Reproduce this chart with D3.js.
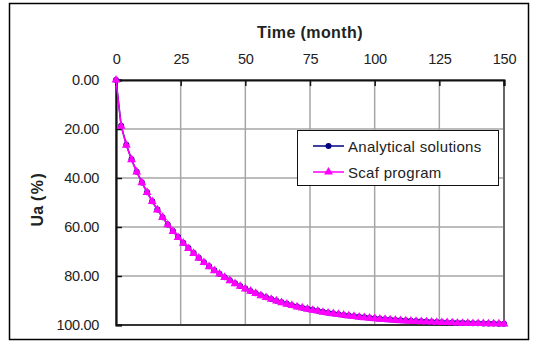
<!DOCTYPE html>
<html><head><meta charset="utf-8">
<script src="https://cdn.jsdelivr.net/npm/d3@7"></script>
<style>
html,body{margin:0;padding:0;background:#fff;}
svg{display:block;}
text{font-family:"Liberation Sans",Arial,sans-serif;fill:#222;}
</style></head><body>
<svg id="chart" width="538" height="345"></svg>
<script>
const months = [0,2,4,6,8,10,12,14,16,18,20,22,24,26,28,30,32,34,36,38,40,42,44,46,48,50,52,54,56,58,60,62,64,66,68,70,72,74,76,78,80,82,84,86,88,90,92,94,96,98,100,102,104,106,108,110,112,114,116,118,120,122,124,126,128,130,132,134,136,138,140,142,144,146,148,150];
const analytical = [0,18.7,26.44,32.39,37.4,41.81,45.8,49.47,52.89,56.0,58.95,61.6,64.1,66.4,68.61,70.66,72.58,74.38,76.06,77.63,79.09,80.46,81.74,82.94,84.06,85.1,86.08,86.99,87.84,88.64,89.38,90.08,90.73,91.33,91.9,92.43,92.93,93.39,93.82,94.23,94.61,94.96,95.29,95.6,95.89,96.16,96.41,96.64,96.86,97.07,97.26,97.44,97.61,97.76,97.91,98.05,98.18,98.3,98.41,98.51,98.61,98.7,98.79,98.87,98.94,99.01,99.07,99.13,99.19,99.24,99.29,99.34,99.38,99.42,99.46,99.5];
const scaf = [0,18.9,26.6,32.5,37.5,41.9,45.9,49.6,53.0,56.1,59.1,61.8,64.3,66.6,68.8,70.8,72.7,74.5,76.2,77.8,79.2,80.6,81.9,83.1,84.2,85.3,86.2,87.1,88.0,88.8,89.5,90.2,90.9,91.5,92.0,92.6,93.0,93.5,94.0,94.3,94.8,95.1,95.4,95.7,96.0,96.3,96.5,96.8,97.0,97.2,97.4,97.6,97.7,97.9,98.0,98.2,98.3,98.4,98.5,98.6,98.7,98.8,98.9,99.0,99.0,99.1,99.2,99.3,99.3,99.4,99.4,99.4,99.5,99.5,99.5,99.6];
const xTicks = [0,25,50,75,100,125,150];
const yTicks = [0,20,40,60,80,100];
const seriesNames = ["Analytical solutions","Scaf program"];

const svg = d3.select("#chart");
const L = 116, R = 504, T = 80, B = 325;
const x = d3.scaleLinear().domain([0,150]).range([L,R]);
const y = d3.scaleLinear().domain([0,100]).range([T,B]);

// outer frame
svg.append("rect").attr("x",9.5).attr("y",3.5).attr("width",519).attr("height",336)
  .attr("fill","#fff").attr("stroke","#000").attr("stroke-width",1.5);

// plot area
svg.append("rect").attr("x",L).attr("y",T).attr("width",R-L).attr("height",B-T)
  .attr("fill","#fff").attr("stroke","#808080").attr("stroke-width",1.5);

// grid
const g = svg.append("g");
g.selectAll(".vg").data(xTicks.slice(1,-1)).enter().append("line")
  .attr("x1",d=>x(d)).attr("x2",d=>x(d)).attr("y1",T).attr("y2",B)
  .attr("stroke","#a6a6a6").attr("stroke-width",1.5);
g.selectAll(".hg").data(yTicks.slice(1,-1)).enter().append("line")
  .attr("y1",d=>y(d)).attr("y2",d=>y(d)).attr("x1",L).attr("x2",R)
  .attr("stroke","#a6a6a6").attr("stroke-width",1.5);
svg.append("line").attr("x1",L).attr("x2",R+1).attr("y1",B).attr("y2",B).attr("stroke","#111").attr("stroke-width",1.5);
svg.append("line").attr("x1",R).attr("x2",R).attr("y1",T).attr("y2",B).attr("stroke","#555").attr("stroke-width",1.5);

// axes
const xAxis = d3.axisTop(x).tickValues(xTicks).tickSize(-6).tickPadding(16).tickFormat(d3.format("d"));
const xa = svg.append("g").attr("transform",`translate(0,${T})`).call(xAxis);
const yAxis = d3.axisLeft(y).tickValues(yTicks).tickSize(-6).tickPadding(17).tickFormat(d3.format(".2f"));
const ya = svg.append("g").attr("transform",`translate(${L},0)`).call(yAxis);
[xa,ya].forEach(a=>{
  a.select(".domain").attr("stroke","#111").attr("stroke-width",2.2);
  a.selectAll(".tick line").attr("stroke","#111").attr("stroke-width",1.5);
  a.selectAll(".tick text").attr("font-size",14.5).attr("fill","#333")
    .attr("font-family","'Liberation Sans',Arial,sans-serif").style("letter-spacing","-0.3px");
});

// titles
svg.append("text").attr("x",310).attr("y",38).attr("text-anchor","middle")
  .attr("font-size",16).attr("font-weight","bold").attr("fill","#000")
  .style("letter-spacing","0.4px").text("Time (month)");
const yl = svg.append("text").attr("transform","translate(43,199) rotate(-90)").attr("text-anchor","middle")
  .attr("font-size",16).attr("font-weight","bold").attr("fill","#000");
yl.append("tspan").text("Ua");
yl.append("tspan").attr("dx",5).style("letter-spacing","1.5px").text("(%)");

// series
const line = d3.line().x((d,i)=>x(months[i])).y(d=>y(d));
const plot = svg.append("g");
plot.append("path").datum(analytical).attr("d",line).attr("fill","none").attr("stroke","#000080").attr("stroke-width",1.5);
plot.selectAll(".am").data(analytical).enter().append("circle")
  .attr("cx",(d,i)=>x(months[i])).attr("cy",d=>y(d)).attr("r",3).attr("fill","#000080");
plot.append("path").datum(scaf).attr("d",line).attr("fill","none").attr("stroke","#ff00ff").attr("stroke-width",1.5);
const tri = d3.symbol().type(d3.symbolTriangle).size(34);
plot.selectAll(".sm").data(scaf).enter().append("path")
  .attr("d",tri).attr("transform",(d,i)=>`translate(${x(months[i])},${y(d)})`).attr("fill","#ff00ff");

// legend
const lg = svg.append("g");
lg.append("rect").attr("x",297.5).attr("y",130.5).attr("width",201).attr("height",55)
  .attr("fill","#fff").attr("stroke","#111").attr("stroke-width",1);
const colors = ["#000080","#ff00ff"];
seriesNames.forEach((n,i)=>{
  const yy = 146 + i*26;
  lg.append("line").attr("x1",313).attr("x2",344).attr("y1",yy).attr("y2",yy).attr("stroke",colors[i]).attr("stroke-width",1.5);
  if(i===0) lg.append("circle").attr("cx",328.5).attr("cy",yy).attr("r",3).attr("fill",colors[i]);
  else lg.append("path").attr("d",tri).attr("transform",`translate(328.5,${yy})`).attr("fill",colors[i]);
  lg.append("text").attr("x",348).attr("y",yy+5.5).attr("font-size",15).attr("fill","#222")
    .style("letter-spacing","0.3px").text(n);
});
</script>
</body></html>
